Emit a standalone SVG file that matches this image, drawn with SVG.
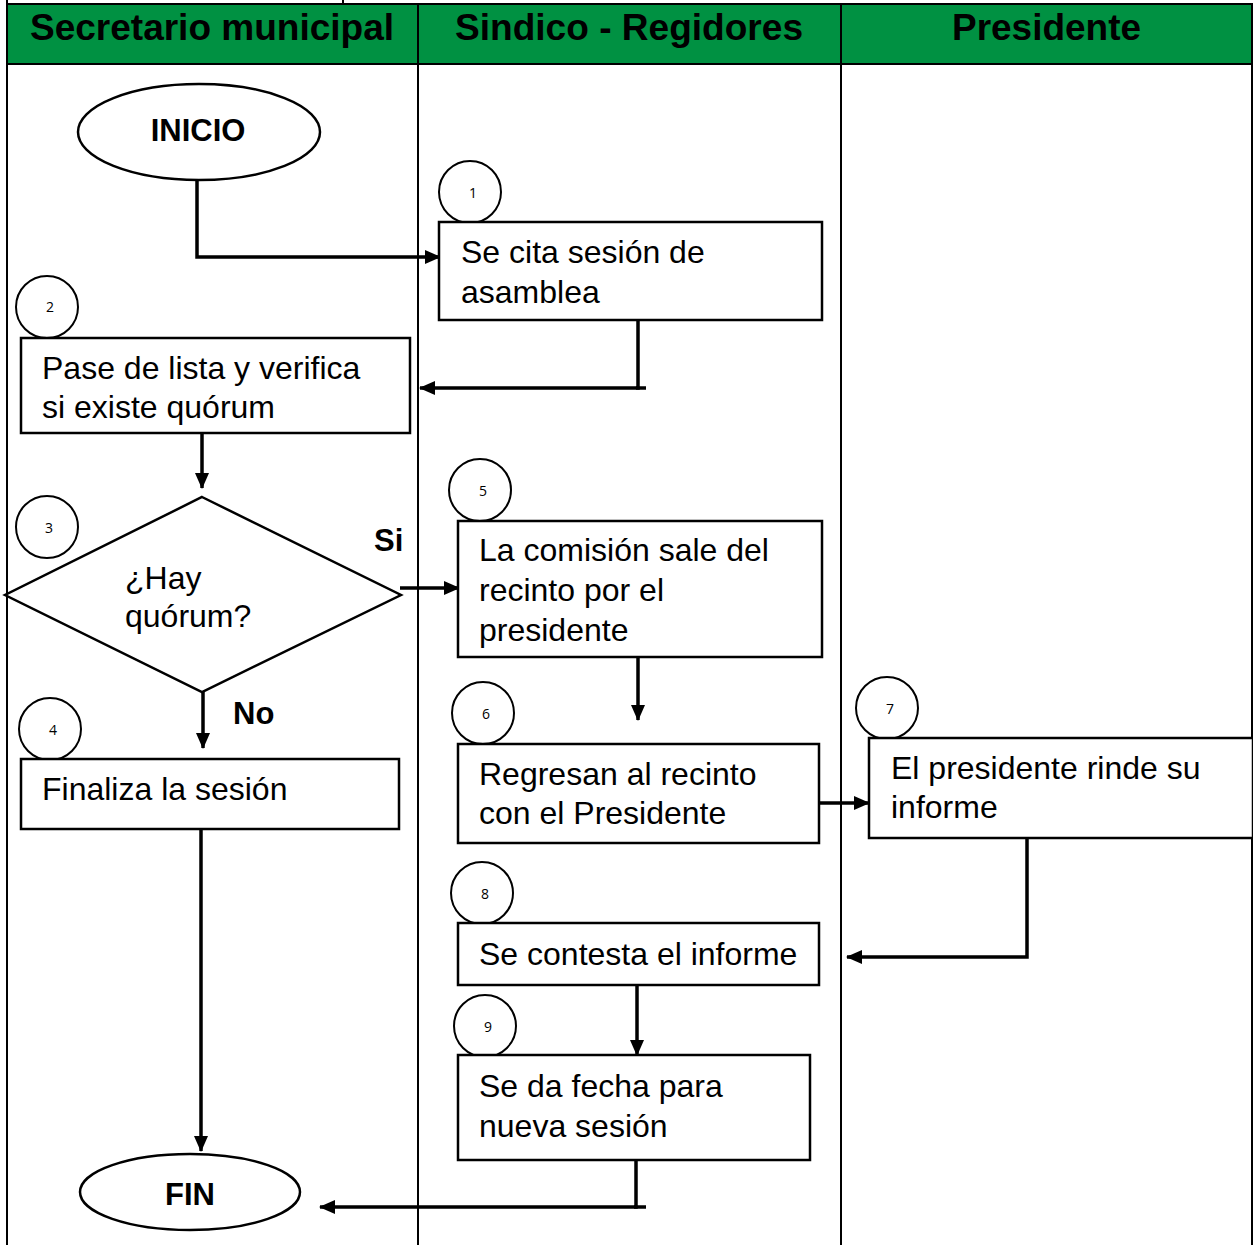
<svg xmlns="http://www.w3.org/2000/svg" width="1253" height="1245" viewBox="0 0 1253 1245">
  <style>
    .lane { fill: none; stroke: #000; stroke-width: 2; }
    .box { fill: #fff; stroke: #000; stroke-width: 2.5; }
    .term { fill: #fff; stroke: #000; stroke-width: 2.5; }
    .num { fill: #fff; stroke: #000; stroke-width: 2; }
    .wire { fill: none; stroke: #000; stroke-width: 3.5; }
    .head { font-family: "Liberation Sans", Arial, sans-serif; font-weight: bold; font-size: 36px; fill: #000; }
    .txt { font-family: "Liberation Sans", Arial, sans-serif; font-size: 32px; fill: #000; }
    .bold { font-family: "Liberation Sans", Arial, sans-serif; font-weight: bold; font-size: 31px; fill: #000; }
    .n { font-family: "Open Sans", "Liberation Sans", sans-serif; font-size: 14px; fill: #000; text-anchor: middle; }
  </style>
  <defs>
    <marker id="arrow" markerUnits="userSpaceOnUse" markerWidth="16" markerHeight="16" viewBox="0 0 16 16" refX="15" refY="8" orient="auto">
      <path d="M0,1 L16,8 L0,15 Z" fill="#000"/>
    </marker>
  </defs>

  <rect x="0" y="0" width="1253" height="1245" fill="#fff"/>

  <!-- swimlane table -->
  <g id="lanes">
    <rect x="7" y="4" width="1245" height="60" fill="#009142"/>
    <line class="lane" x1="7" y1="4" x2="1253" y2="4"/>
    <line class="lane" x1="343" y1="0" x2="343" y2="4"/>
    <line class="lane" x1="7" y1="64" x2="1253" y2="64"/>
    <line class="lane" x1="7" y1="0" x2="7" y2="1245"/>
    <line class="lane" x1="418" y1="4" x2="418" y2="1245"/>
    <line class="lane" x1="841" y1="4" x2="841" y2="1245"/>
    <line class="lane" x1="1252" y1="4" x2="1252" y2="1245"/>
    <text class="head" x="30" y="40" textLength="364" lengthAdjust="spacingAndGlyphs">Secretario municipal</text>
    <text class="head" x="455" y="40" textLength="348" lengthAdjust="spacingAndGlyphs">Sindico - Regidores</text>
    <text class="head" x="952" y="40" textLength="189" lengthAdjust="spacingAndGlyphs">Presidente</text>
  </g>

  <!-- connectors -->
  <g id="connectors">
    <polyline class="wire" points="197,181 197,257 440,257" marker-end="url(#arrow)"/>
    <polyline class="wire" points="638,320 638,388 420,388" marker-end="url(#arrow)"/>
    <line class="wire" x1="636" y1="388" x2="646" y2="388"/>
    <line class="wire" x1="202" y1="433" x2="202" y2="488" marker-end="url(#arrow)"/>
    <line class="wire" x1="400" y1="588" x2="459" y2="588" marker-end="url(#arrow)"/>
    <line class="wire" x1="203" y1="692" x2="203" y2="748" marker-end="url(#arrow)"/>
    <line class="wire" x1="638" y1="657" x2="638" y2="720" marker-end="url(#arrow)"/>
    <line class="wire" x1="819" y1="803" x2="869" y2="803" marker-end="url(#arrow)"/>
    <polyline class="wire" points="1027,838 1027,957 847,957" marker-end="url(#arrow)"/>
    <line class="wire" x1="637" y1="985" x2="637" y2="1055" marker-end="url(#arrow)"/>
    <line class="wire" x1="201" y1="829" x2="201" y2="1151" marker-end="url(#arrow)"/>
    <polyline class="wire" points="636,1160 636,1207 320,1207" marker-end="url(#arrow)"/>
    <line class="wire" x1="634" y1="1207" x2="646" y2="1207"/>
    <text class="bold" x="374" y="551">Si</text>
    <text class="bold" x="233" y="724">No</text>
  </g>

  <g id="inicio">
    <ellipse class="term" cx="199" cy="132" rx="121" ry="48"/>
    <text class="bold" x="198" y="141" text-anchor="middle">INICIO</text>
  </g>

  <g id="step1">
    <circle class="num" cx="470" cy="192" r="31"/>
    <text class="n" x="473" y="198">1</text>
    <rect class="box" x="439" y="222" width="383" height="98"/>
    <text class="txt" x="461" y="263">Se cita sesión de</text>
    <text class="txt" x="461" y="303">asamblea</text>
  </g>

  <g id="step2">
    <circle class="num" cx="47" cy="307" r="31"/>
    <text class="n" x="50" y="312">2</text>
    <rect class="box" x="21" y="338" width="389" height="95"/>
    <text class="txt" x="42" y="379">Pase de lista y verifica</text>
    <text class="txt" x="42" y="418">si existe quórum</text>
  </g>

  <g id="step3">
    <circle class="num" cx="47" cy="527" r="31"/>
    <text class="n" x="49" y="533">3</text>
    <polygon class="box" points="202,497 401,595 202,692 5,595"/>
    <text class="txt" x="125" y="589">¿Hay</text>
    <text class="txt" x="125" y="627">quórum?</text>
  </g>

  <g id="step4">
    <circle class="num" cx="50" cy="729" r="31"/>
    <text class="n" x="53" y="735">4</text>
    <rect class="box" x="21" y="759" width="378" height="70"/>
    <text class="txt" x="42" y="800">Finaliza la sesión</text>
  </g>

  <g id="step5">
    <circle class="num" cx="480" cy="490" r="31"/>
    <text class="n" x="483" y="496">5</text>
    <rect class="box" x="458" y="521" width="364" height="136"/>
    <text class="txt" x="479" y="561">La comisión sale del</text>
    <text class="txt" x="479" y="601">recinto por el</text>
    <text class="txt" x="479" y="641">presidente</text>
  </g>

  <g id="step6">
    <circle class="num" cx="483" cy="713" r="31"/>
    <text class="n" x="486" y="719">6</text>
    <rect class="box" x="458" y="744" width="361" height="99"/>
    <text class="txt" x="479" y="785">Regresan al recinto</text>
    <text class="txt" x="479" y="824">con el Presidente</text>
  </g>

  <g id="step7">
    <circle class="num" cx="887" cy="708" r="31"/>
    <text class="n" x="890" y="714">7</text>
    <rect class="box" x="869" y="738" width="384" height="100"/>
    <text class="txt" x="891" y="779">El presidente rinde su</text>
    <text class="txt" x="891" y="818">informe</text>
  </g>

  <g id="step8">
    <circle class="num" cx="482" cy="893" r="31"/>
    <text class="n" x="485" y="899">8</text>
    <rect class="box" x="458" y="923" width="361" height="62"/>
    <text class="txt" x="479" y="965">Se contesta el informe</text>
  </g>

  <g id="step9">
    <circle class="num" cx="485" cy="1026" r="31"/>
    <text class="n" x="488" y="1032">9</text>
    <rect class="box" x="458" y="1055" width="352" height="105"/>
    <text class="txt" x="479" y="1097">Se da fecha para</text>
    <text class="txt" x="479" y="1137">nueva sesión</text>
  </g>

  <g id="fin">
    <ellipse class="term" cx="190" cy="1192" rx="110" ry="38"/>
    <text class="bold" x="190" y="1205" text-anchor="middle">FIN</text>
  </g>
</svg>
